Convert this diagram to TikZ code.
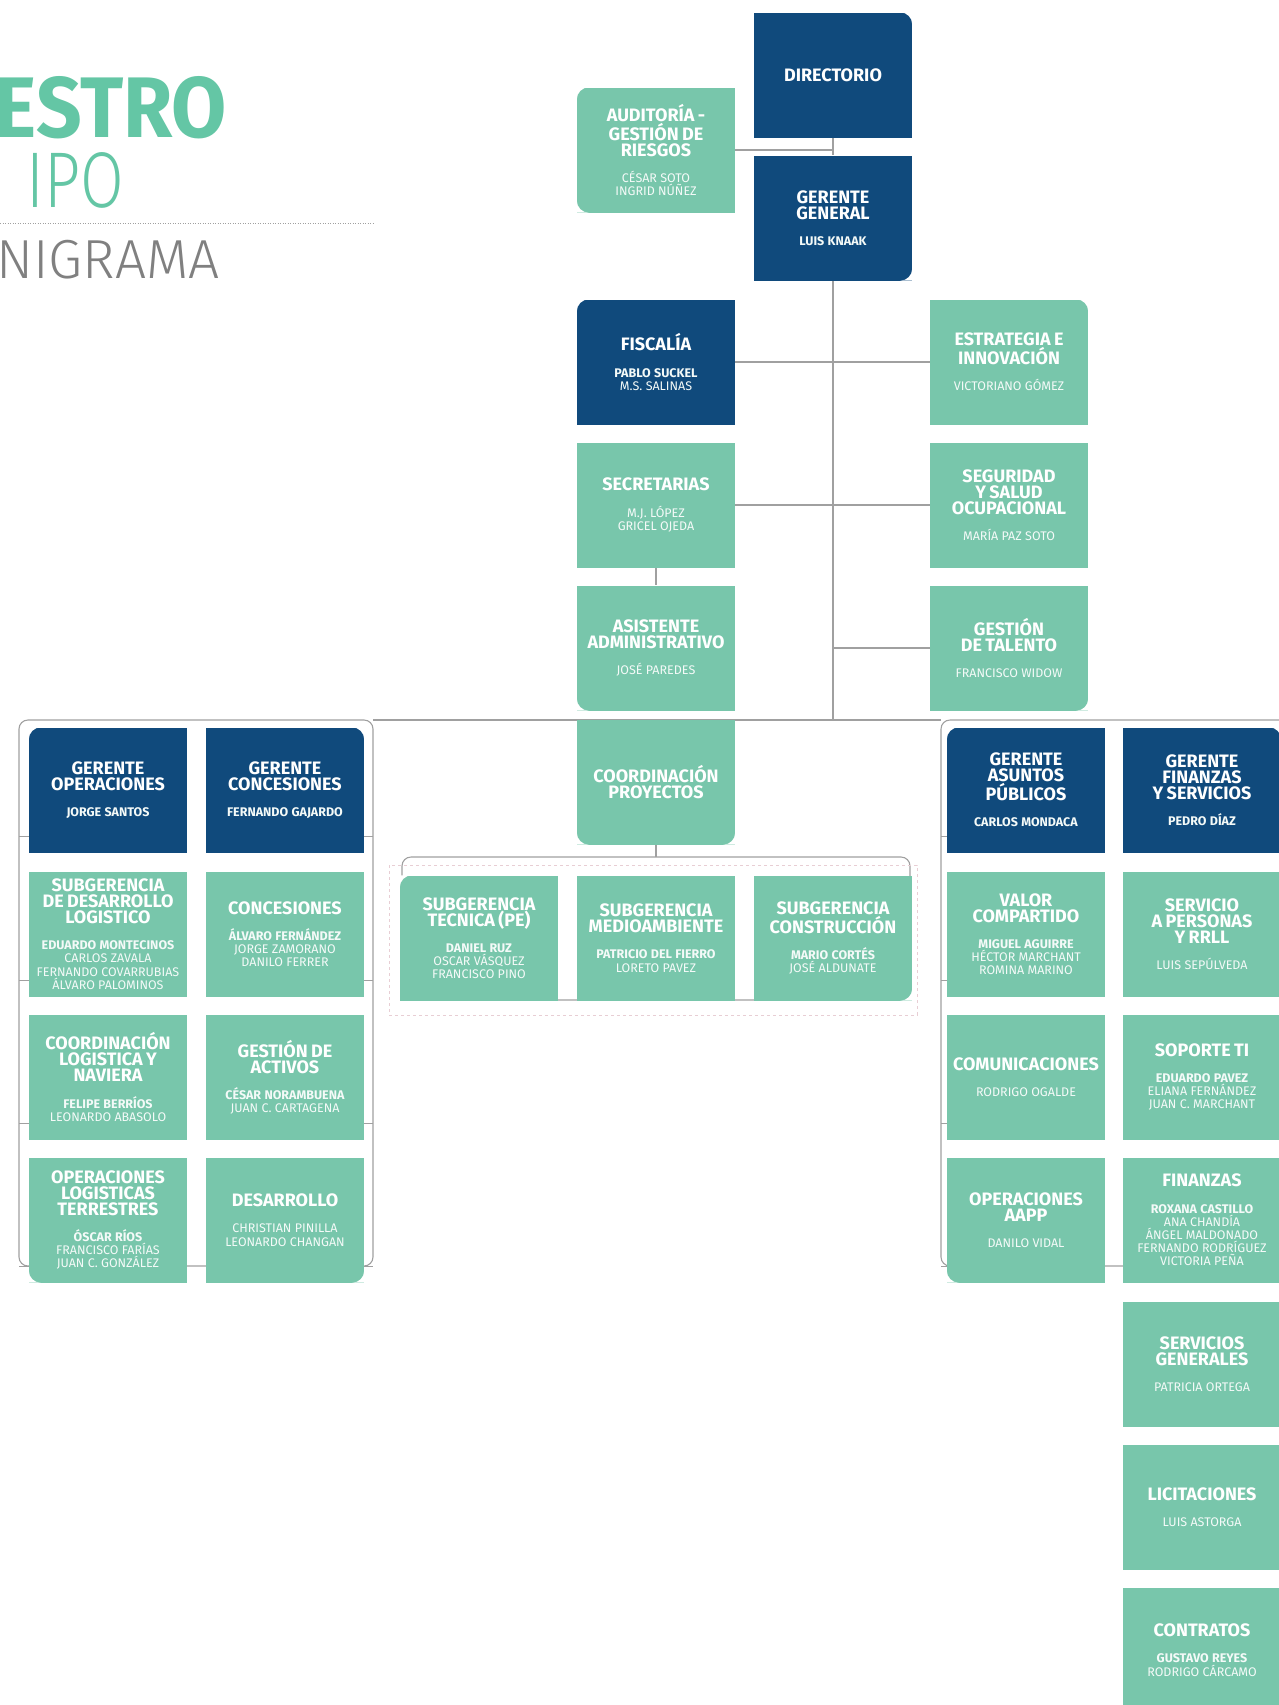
\documentclass[tikz,border=0pt]{standalone}
\usepackage{fontspec}
\setmainfont{Fira Sans}
\newfontfamily\thinfont{Fira Sans Light}
\usetikzlibrary{backgrounds}

\definecolor{orgblue}{RGB}{16,74,124}
\definecolor{orgteal}{RGB}{120,198,171}
\definecolor{titleteal}{RGB}{100,198,165}
\definecolor{linegray}{RGB}{160,160,160}
\definecolor{dashpink}{RGB}{232,206,212}

% heading and name lines inside a box
\newcommand{\hd}[1]{{\fontsize{18}{16}\selectfont\bfseries #1\par}}
\newcommand{\nm}[1]{\vspace{13pt}{\fontsize{12.5}{13.2}\selectfont\color{white!92!orgteal}#1\par}}

\begin{document}
\begin{tikzpicture}[x=1pt, y=-1pt,
        box/.style={rectangle, minimum width=158pt, minimum height=125pt,
            text width=156pt, align=center, inner sep=0pt, text=white},
        dk/.style={box, fill=orgblue},
        lt/.style={box, fill=orgteal},
        link/.style={draw=linegray, line width=1.1pt}]
    \useasboundingbox (0,0) rectangle (1278,1705);

    % title
    \node (ttla) [anchor=base east, inner sep=0pt, text=titleteal, font=\bfseries\fontsize{86}{86}\selectfont] at (227,137) {\scalebox{0.93}[1]{ESTRO}};
    \node (ttlb) [anchor=base west, inner sep=0pt, text=titleteal, font=\thinfont\fontsize{79}{79}\selectfont] at (26,207) {\scalebox{0.8}[1]{IPO}};
    \node (ttlc) [anchor=base west, inner sep=0pt, text=black!50, font=\thinfont\fontsize{55}{55}\selectfont] at (-4,278) {NIGRAMA};
    \draw[linegray, line width=1pt, dash pattern=on 1pt off 1.5pt] (0,223) -- (375,223);

    % top
    \node[dk] (dir) at (833,75) {\hd{DIRECTORIO}};
    \node[dk] (gg) at (833,218) {\hd{GERENTE\\GENERAL}\nm{\textbf{LUIS KNAAK}}};
    \node[lt] (aud) at (656,150) {\hd{AUDITORÍA -\\GESTIÓN DE\\RIESGOS}\nm{CÉSAR SOTO\\INGRID NÚÑEZ}};

    \node[dk] (fisc) at (656,362) {\hd{FISCALÍA}\nm{\textbf{PABLO SUCKEL}\\M.S. SALINAS}};
    \node[lt] (secr) at (656,505) {\hd{SECRETARIAS}\nm{M.J. LÓPEZ\\GRICEL OJEDA}};
    \node[lt] (asis) at (656,648) {\hd{ASISTENTE\\ADMINISTRATIVO}\nm{JOSÉ PAREDES}};
    \node[lt] (estr) at (1009,362) {\hd{ESTRATEGIA E\\INNOVACIÓN}\nm{VICTORIANO GÓMEZ}};
    \node[lt] (segu) at (1009,505) {\hd{SEGURIDAD\\Y SALUD\\OCUPACIONAL}\nm{MARÍA PAZ SOTO}};
    \node[lt] (tale) at (1009,648) {\hd{GESTIÓN\\DE TALENTO}\nm{FRANCISCO WIDOW}};

    % proyectos
    \node[lt] (coord) at (656,782) {\hd{COORDINACIÓN\\PROYECTOS}};
    \node[lt] (subt) at (479,938) {\hd{SUBGERENCIA\\TECNICA (PE)}\nm{\textbf{DANIEL RUZ}\\OSCAR VÁSQUEZ\\FRANCISCO PINO}};
    \node[lt] (subm) at (656,938) {\hd{SUBGERENCIA\\MEDIOAMBIENTE}\nm{\textbf{PATRICIO DEL FIERRO}\\LORETO PAVEZ}};
    \node[lt] (subc) at (833,938) {\hd{SUBGERENCIA\\CONSTRUCCIÓN}\nm{\textbf{MARIO CORTÉS}\\JOSÉ ALDUNATE}};

    % operaciones y concesiones
    \node[dk] (gop) at (108,790) {\hd{GERENTE\\OPERACIONES}\nm{\textbf{JORGE SANTOS}}};
    \node[dk] (gcon) at (285,790) {\hd{GERENTE\\CONCESIONES}\nm{\textbf{FERNANDO GAJARDO}}};
    \node[lt] (sdl) at (108,934) {\hd{SUBGERENCIA\\DE DESARROLLO\\LOGISTICO}\nm{\textbf{EDUARDO MONTECINOS}\\CARLOS ZAVALA\\FERNANDO COVARRUBIAS\\ÁLVARO PALOMINOS}};
    \node[lt] (conc) at (285,934) {\hd{CONCESIONES}\nm{\textbf{ÁLVARO FERNÁNDEZ}\\JORGE ZAMORANO\\DANILO FERRER}};
    \node[lt] (cln) at (108,1077) {\hd{COORDINACIÓN\\LOGISTICA Y\\NAVIERA}\nm{\textbf{FELIPE BERRÍOS}\\LEONARDO ABASOLO}};
    \node[lt] (gact) at (285,1077) {\hd{GESTIÓN DE\\ACTIVOS}\nm{\textbf{CÉSAR NORAMBUENA}\\JUAN C. CARTAGENA}};
    \node[lt] (olt) at (108,1220) {\hd{OPERACIONES\\LOGISTICAS\\TERRESTRES}\nm{\textbf{ÓSCAR RÍOS}\\FRANCISCO FARÍAS\\JUAN C. GONZÁLEZ}};
    \node[lt] (desa) at (285,1220) {\hd{DESARROLLO}\nm{CHRISTIAN PINILLA\\LEONARDO CHANGAN}};

    % asuntos publicos y finanzas
    \node[dk] (gapu) at (1026,790) {\hd{GERENTE\\ASUNTOS\\PÚBLICOS}\nm{\textbf{CARLOS MONDACA}}};
    \node[dk] (gfin) at (1202,790) {\hd{GERENTE\\FINANZAS\\Y SERVICIOS}\nm{\textbf{PEDRO DÍAZ}}};
    \node[lt] (vcom) at (1026,934) {\hd{VALOR\\COMPARTIDO}\nm{\textbf{MIGUEL AGUIRRE}\\HÉCTOR MARCHANT\\ROMINA MARINO}};
    \node[lt] (sper) at (1202,934) {\hd{SERVICIO\\A PERSONAS\\Y RRLL}\nm{LUIS SEPÚLVEDA}};
    \node[lt] (comu) at (1026,1077) {\hd{COMUNICACIONES}\nm{RODRIGO OGALDE}};
    \node[lt] (stic) at (1202,1077) {\hd{SOPORTE TI}\nm{\textbf{EDUARDO PAVEZ}\\ELIANA FERNÁNDEZ\\JUAN C. MARCHANT}};
    \node[lt] (oaap) at (1026,1220) {\hd{OPERACIONES\\AAPP}\nm{DANILO VIDAL}};
    \node[lt] (fina) at (1202,1220) {\hd{FINANZAS}\nm{\textbf{ROXANA CASTILLO}\\ANA CHANDÍA\\ÁNGEL MALDONADO\\FERNANDO RODRÍGUEZ\\VICTORIA PEÑA}};
    \node[lt] (sgen) at (1202,1364) {\hd{SERVICIOS\\GENERALES}\nm{PATRICIA ORTEGA}};
    \node[lt] (lici) at (1202,1507) {\hd{LICITACIONES}\nm{LUIS ASTORGA}};
    \node[lt] (cont) at (1202,1650) {\hd{CONTRATOS}\nm{\textbf{GUSTAVO REYES}\\RODRIGO CÁRCAMO}};

    % rounded outer corners of each group
    \foreach \n in {aud,fisc,subt,gop,gapu}
        \fill[white] (\n.north west) -- ++(12,0) arc[start angle=90, end angle=180, radius=12pt] -- cycle;
    \foreach \n in {dir,estr,gcon,gfin}
        \fill[white] (\n.north east) -- ++(-12,0) arc[start angle=90, end angle=0, radius=12pt] -- cycle;
    \foreach \n in {aud,asis,coord,olt,oaap}
        \fill[white] (\n.south west) -- ++(12,0) arc[start angle=270, end angle=180, radius=12pt] -- cycle;
    \foreach \n in {gg,tale,coord,subc,desa}
        \fill[white] (\n.south east) -- ++(-12,0) arc[start angle=270, end angle=360, radius=12pt] -- cycle;

    \coordinate (busl) at (373,720);
    \coordinate (busr) at (941,720);
    \coordinate (sbar) at (656,857);

    \begin{scope}[on background layer]
        \draw[link] (dir.south) -- (gg.north);
        \draw[link] (aud.east) -- (aud.east -| dir.south);
        \draw[link] (gg.south) -- (gg.south |- busl);
        \draw[link] (fisc.east) -- (estr.west);
        \draw[link] (secr.east) -- (segu.west);
        \draw[link] (secr.south) -- (asis.north);
        \draw[link] (tale.west) -- (tale.west -| gg.south);
        \draw[link] (busl) -- (busr);
        % group frames
        \draw[link, rounded corners=9pt] (19,720) rectangle (busl |- 0,1266);
        \draw[link, rounded corners=9pt] (busr) rectangle (1310,1266);
        \foreach \n in {gop,sdl,cln,olt}
            \draw[link] ([yshift=16pt]\n.south west) -- ++(-10,0);
        \foreach \n in {gcon,conc,gact,desa}
            \draw[link] ([yshift=16pt]\n.south east) -- ++(9,0);
        \foreach \n in {gapu,vcom,comu,oaap}
            \draw[link] ([yshift=16pt]\n.south west) -- ++(-6,0);
        % proyectos frame
        \draw[link] (coord.south) -- (sbar);
        \draw[link, rounded corners=9pt] (402,857) rectangle (910,1000);
        \draw[dashpink, line width=0.9pt, dashed] (389,865) rectangle (917,1015);
    \end{scope}
\end{tikzpicture}
\end{document}
